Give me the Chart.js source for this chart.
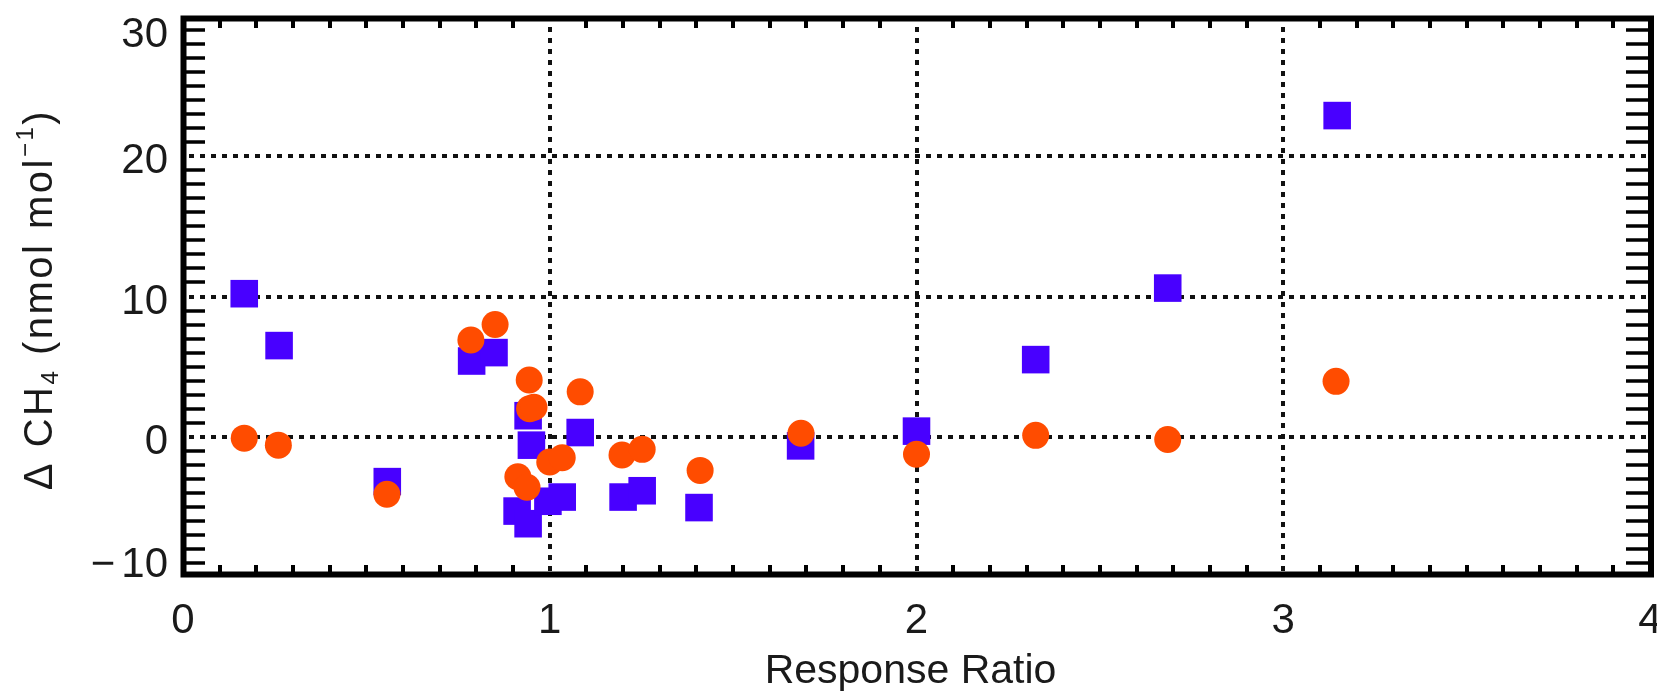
<!DOCTYPE html>
<html>
<head>
<meta charset="utf-8">
<script src="https://cdn.jsdelivr.net/npm/chart.js@4.4.1/dist/chart.umd.min.js"></script>
<style>
  body { margin: 0; background: #fff; }
  canvas { display: block; }
</style>
</head>
<body>
<canvas id="chart" width="1657" height="693"></canvas>
<script>
// squares (blue) and circles (orange)
var squaresX = [0.167, 0.262, 0.557, 0.787, 0.848, 0.941, 0.95, 1.083, 0.911, 0.941, 0.995, 1.034, 1.2, 1.252, 1.407, 1.684, 2.0, 2.325, 2.685, 3.147];
var squaresY = [10.2, 6.5, -3.2, 5.4, 6.0, 1.5, -0.6, 0.3, -5.3, -6.2, -4.6, -4.3, -4.3, -3.85, -5.05, -0.65, 0.4, 5.5, 10.6, 22.9];

var circlesX = [0.167, 0.26, 0.556, 0.785, 0.851, 0.944, 0.945, 0.957, 1.083, 1.0, 1.034, 0.913, 0.938, 1.197, 1.252, 1.41, 1.685, 2.0, 2.325, 2.685, 3.144];
var circlesY = [-0.1, -0.6, -4.1, 6.9, 8.0, 4.05, 2.0, 2.1, 3.2, -1.8, -1.5, -2.85, -3.6, -1.3, -0.9, -2.4, 0.25, -1.25, 0.1, -0.2, 3.95];

var xTicks = [0, 1, 2, 3, 4];
var yTicks = [-10, 0, 10, 20, 30];
var xMinorStep = 0.1;
var yMinorStep = 1;

function toPoints(xs, ys) {
  return xs.map(function (x, i) { return { x: x, y: ys[i] }; });
}

// IDL style box: thick frame, inward minor ticks, dotted major grid
var idlAxes = {
  id: 'idlAxes',
  beforeDatasetsDraw: function (chart) {
    var ctx = chart.ctx, a = chart.chartArea;
    var xs = chart.scales.x, ys = chart.scales.y;
    ctx.save();
    ctx.strokeStyle = '#111';
    ctx.lineWidth = 4;
    ctx.setLineDash([5, 6]);
    xTicks.forEach(function (v) {
      if (v === xs.min || v === xs.max) return;
      var px = Math.round(xs.getPixelForValue(v));
      ctx.beginPath(); ctx.moveTo(px, a.top); ctx.lineTo(px, a.bottom); ctx.stroke();
    });
    yTicks.forEach(function (v) {
      if (v === ys.min || v === ys.max) return;
      var py = Math.round(ys.getPixelForValue(v));
      ctx.beginPath(); ctx.moveTo(a.left + 6, py); ctx.lineTo(a.right, py); ctx.stroke();
    });
    ctx.restore();
  },
  afterDraw: function (chart) {
    var ctx = chart.ctx, a = chart.chartArea;
    var xs = chart.scales.x, ys = chart.scales.y;
    ctx.save();
    ctx.setLineDash([]);
    ctx.strokeStyle = '#000';

    // minor ticks
    ctx.lineWidth = 4;
    var n = Math.round((xs.max - xs.min) / xMinorStep);
    for (var i = 1; i < n; i++) {
      if (i % 10 === 0) continue;
      var px = Math.round(xs.getPixelForValue(xs.min + i * xMinorStep));
      ctx.beginPath(); ctx.moveTo(px, a.bottom); ctx.lineTo(px, a.bottom - 12); ctx.stroke();
      ctx.beginPath(); ctx.moveTo(px, a.top); ctx.lineTo(px, a.top + 12); ctx.stroke();
    }
    ctx.lineWidth = 3.5;
    var m = Math.round((ys.max - ys.min) / yMinorStep);
    for (var j = 1; j < m; j++) {
      if (j % 10 === 0) continue;
      var py = Math.round(ys.getPixelForValue(ys.min + j * yMinorStep));
      ctx.beginPath(); ctx.moveTo(a.left, py); ctx.lineTo(a.left + 22, py); ctx.stroke();
      ctx.beginPath(); ctx.moveTo(a.right, py); ctx.lineTo(a.right - 24, py); ctx.stroke();
    }

    // frame
    ctx.lineWidth = 6;
    ctx.strokeRect(a.left + 0.5, a.top + 2.5, a.right - a.left + 0.5, a.bottom - a.top - 5);

    // tick labels
    ctx.fillStyle = '#1a1a1a';
    ctx.font = '42px "Liberation Sans", Arial, sans-serif';
    ctx.textAlign = 'center';
    ctx.textBaseline = 'alphabetic';
    xTicks.forEach(function (v) {
      ctx.fillText(String(v), xs.getPixelForValue(v), a.bottom + 56);
    });
    ctx.textAlign = 'right';
    yTicks.forEach(function (v) {
      var base = ys.getPixelForValue(v) + 17;
      base = Math.max(a.top + 31, Math.min(a.bottom, base));
      var txt = String(Math.abs(v));
      ctx.fillText(txt, a.left - 15, base);
      if (v < 0) {
        var w = ctx.measureText(txt).width;
        ctx.fillText('\u2212', a.left - 15 - w - 6, base);
      }
    });

    // x title
    ctx.font = '41px "Liberation Sans", Arial, sans-serif';
    ctx.textAlign = 'center';
    ctx.fillText('Response Ratio', (a.left + a.right) / 2 - 6, 683);

    // y title, rotated, with sub/superscripts
    var big = '40px "Liberation Sans", Arial, sans-serif';
    var small = '24px "Liberation Sans", Arial, sans-serif';
    var parts = [
      { t: '\u0394 CH', f: big, dy: 0 },
      { t: '4', f: small, dy: 6 },
      { t: ' (nmol mol', f: big, dy: 0 },
      { t: '\u22121', f: small, dy: -19 },
      { t: ')', f: big, dy: 0 }
    ];
    ctx.letterSpacing = '2.5px';
    var total = 0;
    parts.forEach(function (p) { ctx.font = p.f; p.w = ctx.measureText(p.t).width; total += p.w; });
    ctx.translate(52, (a.top + a.bottom) / 2 + 3);
    ctx.rotate(-Math.PI / 2);
    ctx.textAlign = 'left';
    var cx = -total / 2;
    parts.forEach(function (p) {
      ctx.font = p.f;
      ctx.fillText(p.t, cx, p.dy);
      cx += p.w;
    });
    ctx.restore();
  }
};

var ctx = document.getElementById('chart').getContext('2d');
new Chart(ctx, {
  type: 'scatter',
  data: {
    datasets: [{
      label: 'circles',
      data: toPoints(circlesX, circlesY),
      pointStyle: 'circle',
      pointRadius: 13.5,
      pointHoverRadius: 13.5,
      backgroundColor: '#ff4c00',
      borderWidth: 0,
      order: 0
    }, {
      label: 'squares',
      data: toPoints(squaresX, squaresY),
      pointStyle: 'rect',
      pointRadius: 19.5,
      pointHoverRadius: 19.5,
      backgroundColor: '#4800ff',
      borderWidth: 0,
      order: 1
    }]
  },
  options: {
    responsive: false,
    animation: false,
    events: [],
    layout: { autoPadding: false, padding: { left: 183, right: 7, top: 16, bottom: 116 } },
    plugins: {
      legend: { display: false },
      tooltip: { enabled: false }
    },
    scales: {
      x: { type: 'linear', min: 0, max: 4, display: false },
      y: { type: 'linear', min: -10, max: 30, display: false }
    }
  },
  plugins: [idlAxes]
});
</script>
</body>
</html>
